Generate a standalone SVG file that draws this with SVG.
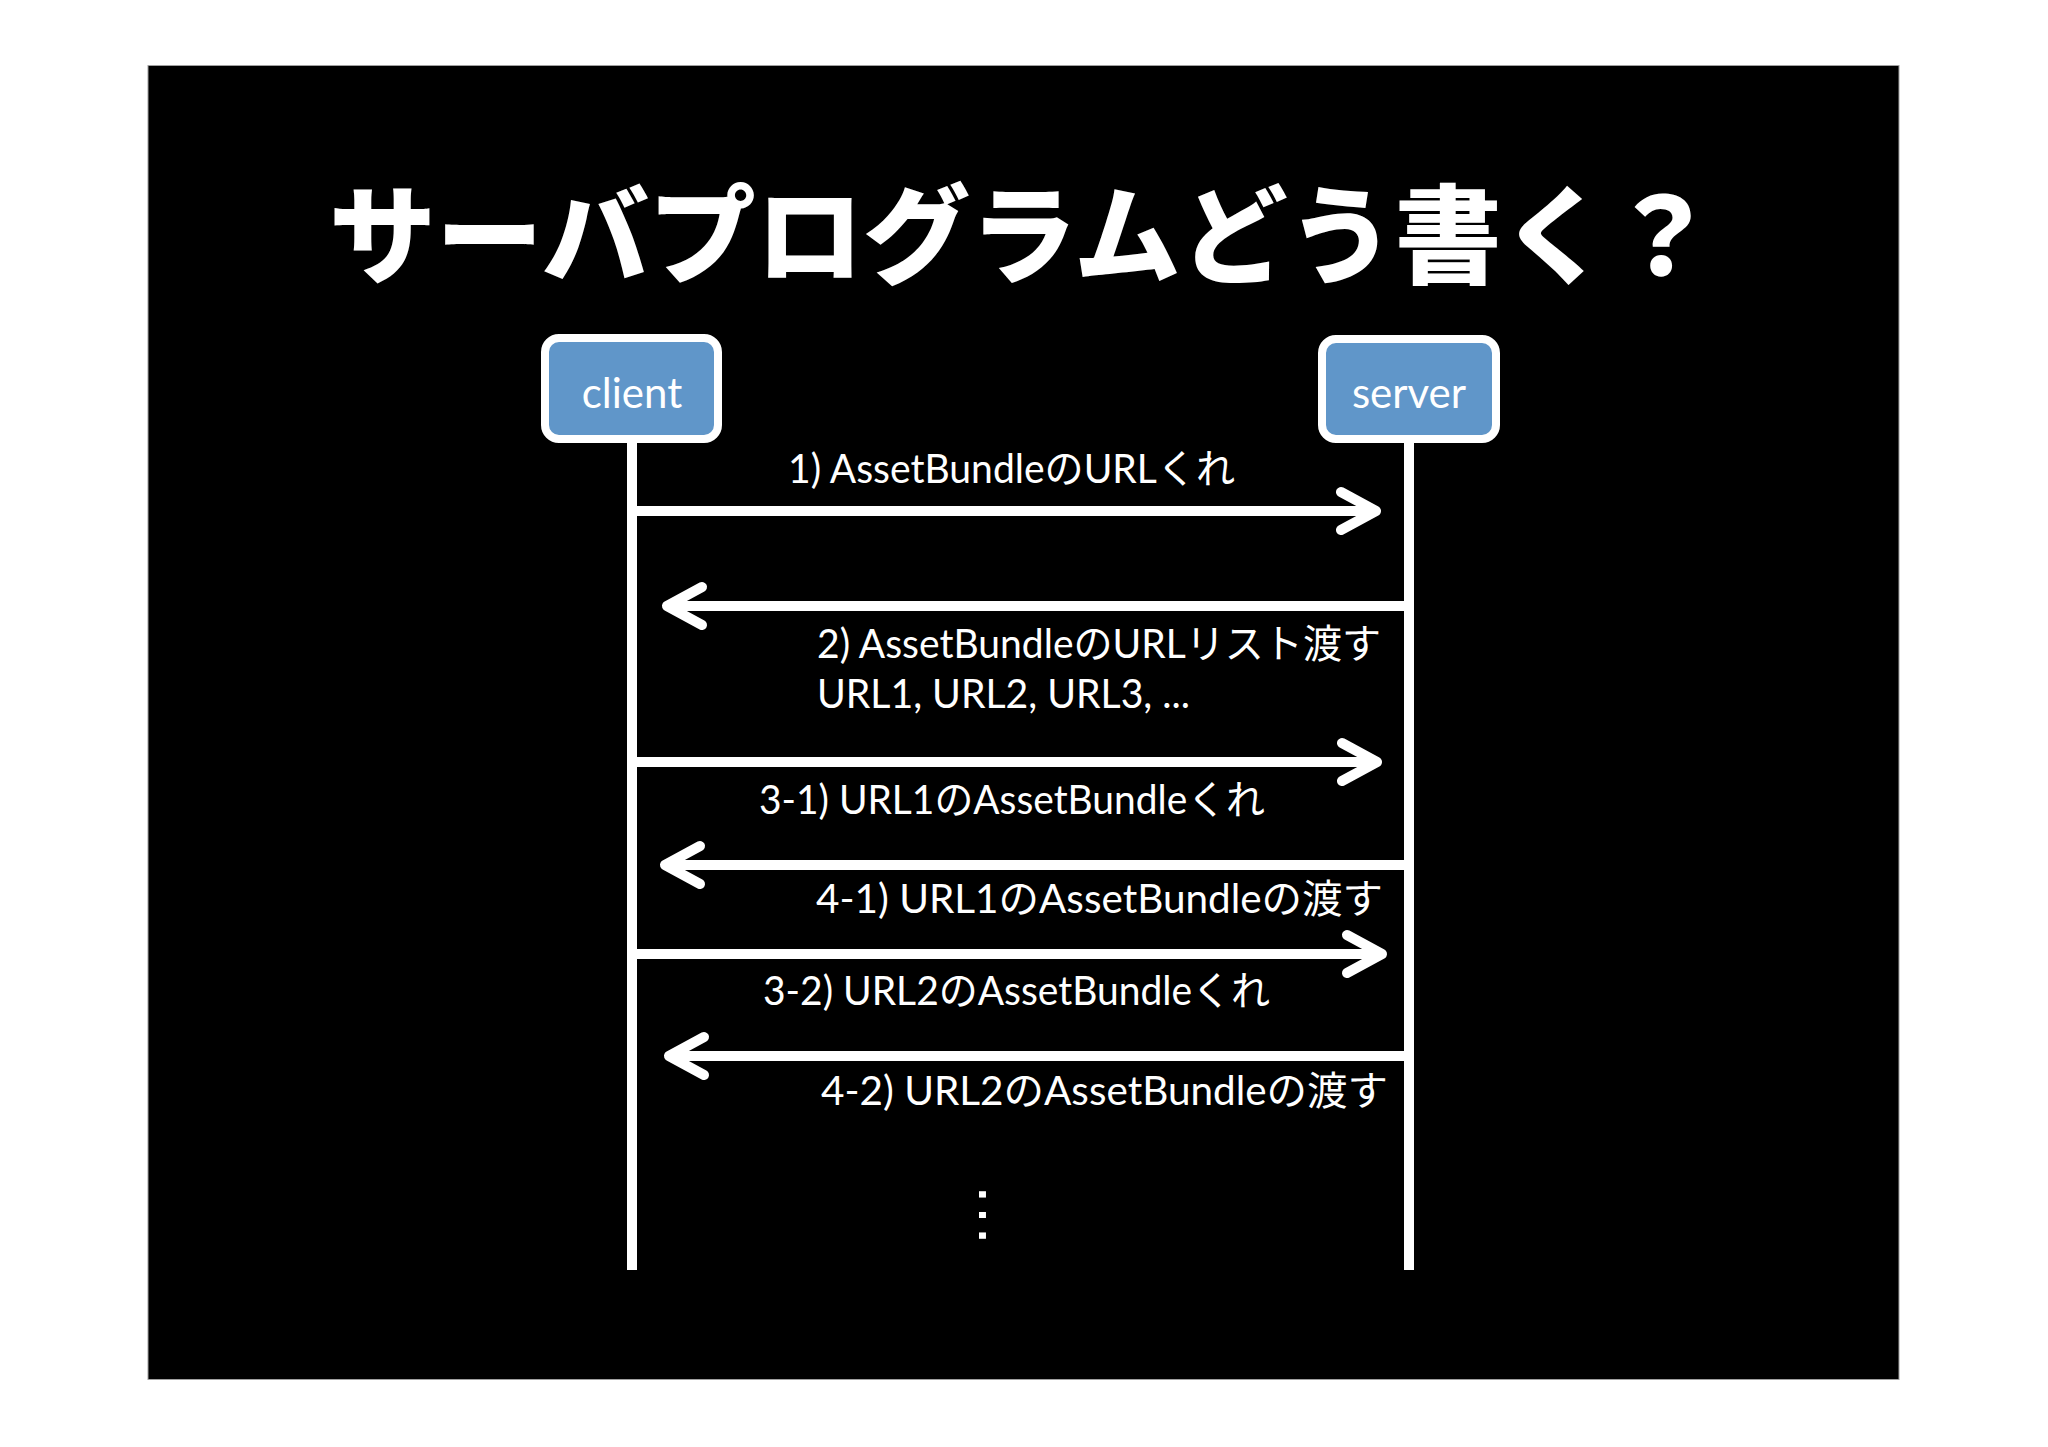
<svg xmlns="http://www.w3.org/2000/svg" width="2048" height="1447" viewBox="0 0 2048 1447">
  <style>
    .title { font-family: "Noto Sans CJK JP", sans-serif; font-weight: 900; font-size: 107px; fill: #ffffff; }
    .box { fill: #6096c9; stroke: #ffffff; stroke-width: 8; }
    .boxtext { font-family: Lato, "Noto Sans CJK JP", sans-serif; font-size: 42px; fill: #ffffff; text-anchor: middle; }
    .life { stroke: #ffffff; stroke-width: 10; }
    .msg { stroke: #ffffff; stroke-width: 10; fill: none; }
    .label { font-family: Lato, "Noto Sans CJK JP", sans-serif; font-size: 40px; fill: #ffffff; }
    .dots { font-family: "Liberation Sans", sans-serif; font-size: 65px; fill: #ffffff; text-anchor: middle; }
  </style>
  <defs>
    <marker id="chev" markerUnits="userSpaceOnUse" markerWidth="60" markerHeight="60" refX="0" refY="0" viewBox="-50 -30 60 60" orient="auto" overflow="visible">
      <path d="M -35 -19 L 0 0 L -35 19" fill="none" stroke="#ffffff" stroke-width="10" stroke-linecap="round" stroke-linejoin="round"/>
    </marker>
  </defs>

  <rect x="0" y="0" width="2048" height="1447" fill="#ffffff"/>
  <rect id="slide" x="148" y="65.5" width="1751" height="1314" fill="#000000" stroke="#a0a0a0" stroke-width="1"/>

  <text id="title" class="title" x="329" y="275">サーバプログラムどう書く？</text>

  <g id="client">
    <line class="life" x1="632" y1="440" x2="632" y2="1270"/>
    <rect class="box" x="545" y="338" width="173" height="101" rx="14" ry="14"/>
    <text class="boxtext" x="632" y="408">client</text>
  </g>

  <g id="server">
    <line class="life" x1="1409" y1="440" x2="1409" y2="1270"/>
    <rect class="box" x="1322" y="339" width="174" height="100" rx="14" ry="14"/>
    <text class="boxtext" x="1409" y="408">server</text>
  </g>

  <g id="connectors">
    <line class="msg" x1="632" y1="511" x2="1376" y2="511" marker-end="url(#chev)"/>
    <line class="msg" x1="1411" y1="606" x2="667" y2="606" marker-end="url(#chev)"/>
    <line class="msg" x1="632" y1="762" x2="1377" y2="762" marker-end="url(#chev)"/>
    <line class="msg" x1="1411" y1="865" x2="665" y2="865" marker-end="url(#chev)"/>
    <line class="msg" x1="632" y1="954" x2="1382" y2="954" marker-end="url(#chev)"/>
    <line class="msg" x1="1411" y1="1056" x2="669" y2="1056" marker-end="url(#chev)"/>

    <text class="label" x="788" y="483" textLength="447" lengthAdjust="spacingAndGlyphs">1) AssetBundleのURLくれ</text>
    <text class="label" x="817" y="658" textLength="564" lengthAdjust="spacingAndGlyphs">2) AssetBundleのURLリスト渡す</text>
    <text class="label" x="817" y="708" textLength="373" lengthAdjust="spacingAndGlyphs">URL1, URL2, URL3, ...</text>
    <text class="label" x="759" y="814" textLength="506" lengthAdjust="spacingAndGlyphs">3-1) URL1のAssetBundleくれ</text>
    <text class="label" x="816" y="913" textLength="567" lengthAdjust="spacingAndGlyphs">4-1) URL1のAssetBundleの渡す</text>
    <text class="label" x="763" y="1005" textLength="507" lengthAdjust="spacingAndGlyphs">3-2) URL2のAssetBundleくれ</text>
    <text class="label" x="821" y="1105" textLength="567" lengthAdjust="spacingAndGlyphs">4-2) URL2のAssetBundleの渡す</text>
  </g>

  <text id="ellipsis" class="dots" transform="translate(979,1215) rotate(90)" x="0" y="0">…</text>
</svg>
